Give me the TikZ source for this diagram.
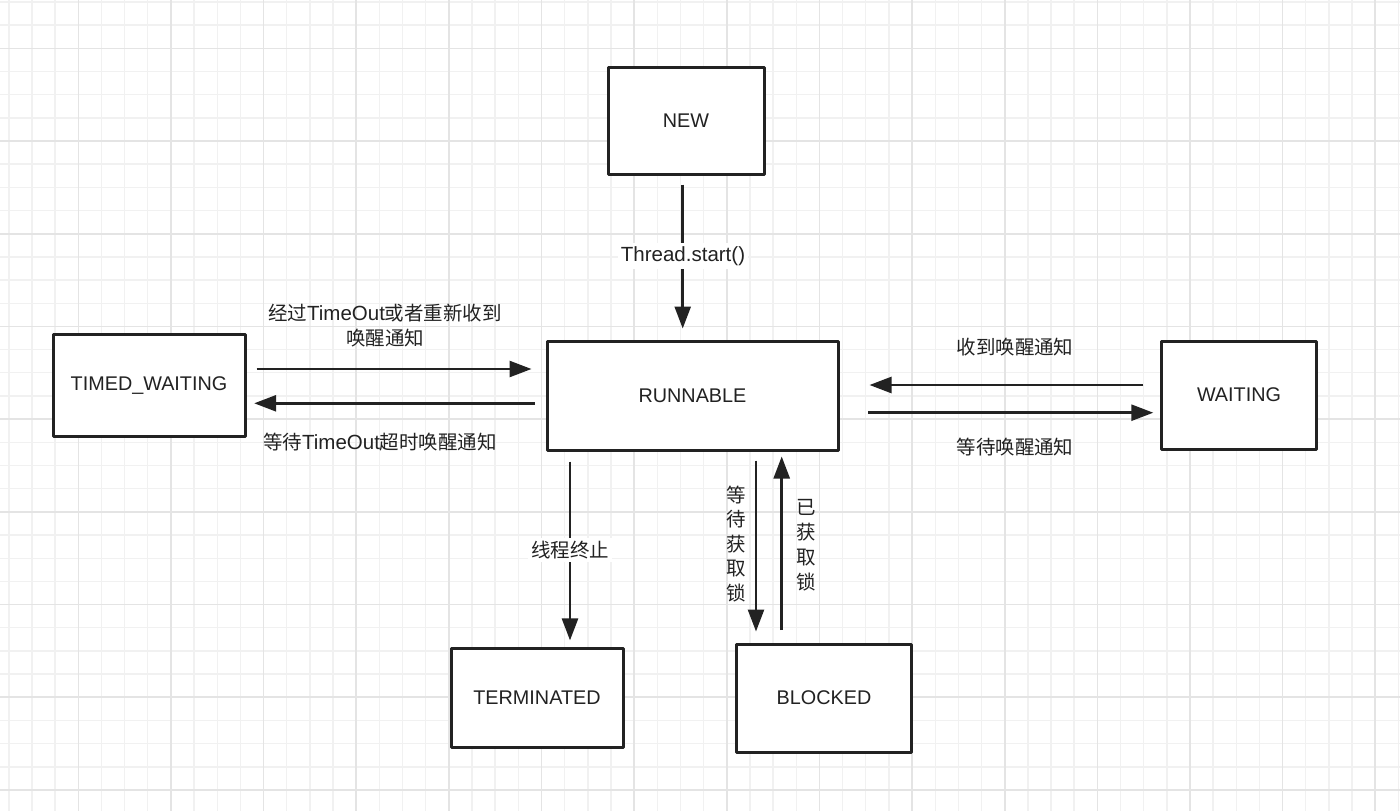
\documentclass[tikz,border=0pt]{standalone}
\usepackage{fontspec}
\setmainfont{Liberation Sans}
\newfontfamily\cjk[Scale=0.95]{Noto Sans CJK SC}
\usetikzlibrary{arrows.meta}
\definecolor{ink}{HTML}{222222}
\definecolor{gridminor}{HTML}{F1F1F1}
\definecolor{gridmajor}{HTML}{E4E4E4}
\tikzset{
  statebox/.style={draw=ink, line width=3pt, line join=round, fill=white, text=ink,
    font=\fontsize{19.8}{22}\selectfont, inner sep=0pt},
  arr/.style={draw=ink, line width=2.6pt, -{Triangle[length=22pt,width=16pt]}},
  lbl/.style={text=ink, font=\fontsize{20.5}{24}\selectfont, inner sep=1pt},
  lblw/.style={lbl, fill=white, inner sep=3pt},
}
\begin{document}
\begin{tikzpicture}[x=1pt,y=-1pt]
\useasboundingbox (0,0) rectangle (1400,811);
\fill[white] (0,0) rectangle (1400,811);
% grid
\foreach \i in {0,...,60}{
  \pgfmathsetmacro\gx{8.8+23.16*\i}
  \draw[gridminor, line width=1.4pt] (\gx,0) -- (\gx,811);
}
\foreach \i in {0,...,34}{
  \pgfmathsetmacro\gy{1.9+23.18*\i}
  \draw[gridminor, line width=1.4pt] (0,\gy) -- (1400,\gy);
}
\foreach \i in {0,...,14}{
  \pgfmathsetmacro\gx{78.3+92.64*\i}
  \draw[gridmajor, line width=1.6pt] (\gx,0) -- (\gx,811);
}
\foreach \i in {0,...,8}{
  \pgfmathsetmacro\gy{48.3+92.7*\i}
  \draw[gridmajor, line width=1.6pt] (0,\gy) -- (1400,\gy);
}
% states
\node[statebox, minimum width=156pt, minimum height=107pt] (new) at (686,120.5) {NEW};
\node[statebox, minimum width=192pt, minimum height=102pt] (timed) at (149,385.5) {TIMED\_WAITING};
\node[statebox, minimum width=291pt, minimum height=109pt] (run) at (692.5,395.5) {RUNNABLE};
\node[statebox, minimum width=155pt, minimum height=108pt] (wait) at (1239,395) {WAITING};
\node[statebox, minimum width=172pt, minimum height=99pt] (term) at (537,698) {TERMINATED};
\node[statebox, minimum width=175pt, minimum height=108pt] (block) at (824,698) {BLOCKED};
% anchor points
\coordinate (a1) at ([xshift=-3.3pt]new.south);
\coordinate (a2) at ([yshift=16.5pt]timed.east);
\coordinate (a3) at ([yshift=-7.8pt]run.west);
\coordinate (a4) at ([yshift=10pt]wait.west);
\coordinate (a5) at ([yshift=-17.2pt]run.east);
\coordinate (a6) at ([xshift=-122.5pt]run.south);
\coordinate (a7) at ([xshift=63.5pt]run.south);
\coordinate (a8) at ([xshift=-42.3pt]block.north);
% connectors
\draw[arr, shorten <=9pt, shorten >=11pt] (a1) -- (a1 |- run.north);
\draw[arr, shorten <=10pt, shorten >=14pt] (a2) -- (a2 -| run.west);
\draw[arr, shorten <=11pt, shorten >=7.7pt] (a3) -- (a3 -| timed.east);
\draw[arr, shorten <=16.7pt, shorten >=30pt] (a4) -- (a4 -| run.east);
\draw[arr, shorten <=28.7pt, shorten >=6.7pt] (a5) -- (a5 -| wait.west);
\draw[arr, shorten <=10pt, shorten >=6.6pt] (a6) -- (a6 |- term.north);
\draw[arr, shorten <=9pt, shorten >=11pt] (a7) -- (a7 |- block.north);
\draw[arr, shorten <=12.3pt, shorten >=5pt] (a8) -- (a8 |- run.south);
% labels
\node[lblw] (l1) at (683,256) {Thread.start()};
\node[lblw] (l2) at (570,550) {\cjk 线程终止};
\node[lbl] (l3a) at (385,313) {{\cjk 经过}TimeOut{\cjk 或者重新收到}};
\node[lbl] (l3b) at (385,338) {\cjk 唤醒通知};
\node[lbl] (l4) at (380,441.7) {{\cjk 等待}TimeOut{\cjk 超时唤醒通知}};
\node[lbl] (l5) at (1015,346.7) {\cjk 收到唤醒通知};
\node[lbl] (l6) at (1015,446.7) {\cjk 等待唤醒通知};
\node[lbl, align=center, font=\fontsize{20.5}{24.5}\selectfont] (l7) at (736.7,544) {\cjk 等\\\cjk 待\\\cjk 获\\\cjk 取\\\cjk 锁};
\node[lbl, align=center, font=\fontsize{20.5}{25}\selectfont] (l8) at (806,545.5) {\cjk 已\\\cjk 获\\\cjk 取\\\cjk 锁};
\end{tikzpicture}
\end{document}
